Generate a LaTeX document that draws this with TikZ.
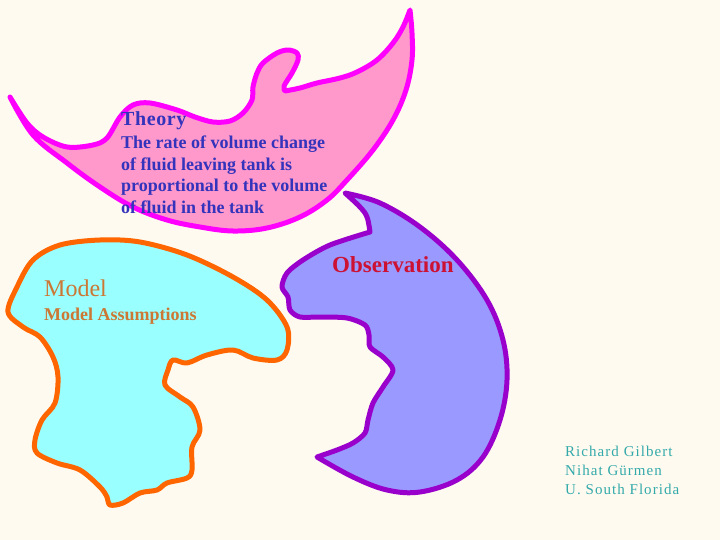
\documentclass[tikz,border=0pt]{standalone}
\usepackage{fontspec}
\setmainfont{Liberation Serif}
\definecolor{bgc}{HTML}{FFFAF0}
\definecolor{pinkfill}{HTML}{FF99CC}
\definecolor{pinkline}{HTML}{FF00FF}
\definecolor{cyanfill}{HTML}{99FFFF}
\definecolor{orangeline}{HTML}{FF6600}
\definecolor{bluefill}{HTML}{9999FF}
\definecolor{purpleline}{HTML}{9900CC}
\definecolor{theorytext}{HTML}{3333BB}
\definecolor{modeltext}{HTML}{CC7733}
\definecolor{obstext}{HTML}{CC1133}
\definecolor{authortext}{HTML}{33AAAA}
\tikzset{
  blob/.style={line width=5pt, line join=round, line cap=round},
  txt/.style={inner sep=0pt, anchor=north west, align=left},
}
\begin{document}
\begin{tikzpicture}[x=1pt,y=-1pt]
\useasboundingbox (0,0) rectangle (720,540);
\fill[bgc] (0,0) rectangle (720,540);
% Theory blob
\draw[blob, draw=pinkline, fill=pinkfill]
  plot[smooth, tension=0.6] coordinates {(10,97) (33,135) (67,163) (100,187) (133,207) (167,220) (200,227) (233,231) (267,228) (300,217) (327,200) (347,180) (373,150) (393,120) (406,90) (412,60) (412,33) (410,10)}
  -- plot[smooth, tension=0.6] coordinates {(410,10) (403,27) (393,43) (377,60) (357,72) (340,78) (317,83) (300,88) (285,91)}
  -- plot[smooth, tension=0.55] coordinates {(285,91) (284,86) (292,73) (298,60) (297,53) (288,50) (277,53) (263,63) (257,73) (253,87) (252,100) (243,113) (230,121) (213,122) (195,117) (177,110) (150,103) (133,105) (120,117) (107,138) (93,145) (67,147) (43,137) (27,123) (10,97)}
  -- cycle;
% Model blob
\draw[blob, draw=orangeline, fill=cyanfill]
  plot[smooth cycle, tension=0.55] coordinates {(8,312) (17,287) (33,260) (60,245) (100,240) (140,242) (187,255) (233,277) (267,300) (287,327) (287,350) (277,360) (253,358) (233,350) (207,355) (187,363) (173,360) (168,370) (165,385) (180,397) (193,407) (200,430) (192,447) (192,470) (187,478) (167,483) (157,490) (140,493) (123,503) (110,505) (107,497) (100,487) (80,470) (57,463) (37,453) (35,440) (42,420) (55,403) (58,377) (53,357) (40,337) (23,327)};
% Observation blob
\draw[blob, draw=purpleline, fill=bluefill]
  plot[smooth, tension=0.6] coordinates {(345,193) (380,203) (420,227) (457,260) (487,300) (503,340) (507,380) (500,420) (483,457) (457,480) (420,492) (387,490) (353,477) (317,457)}
  -- plot[smooth, tension=0.5] coordinates {(317,457) (337,450) (353,443) (365,433) (368,420) (373,403) (383,387) (393,370) (383,357) (370,347) (369,335) (365,325) (347,318) (320,317) (300,317) (290,310) (288,297) (282,287) (287,273) (303,260) (330,245) (370,232)}
  -- plot[smooth, tension=0.6] coordinates {(370,232) (367,217) (360,207) (345,193)}
  -- cycle;
% Texts
\node[txt, text=theorytext, font=\fontsize{20}{24}\selectfont\bfseries\addfontfeature{LetterSpace=3}] (theory) at (121,111) {Theory};
\node[txt, text=theorytext, font=\fontsize{18}{21.8}\selectfont\bfseries] (theorybody) at (121,135.5)
  {The rate of volume change\\of fluid leaving tank is\\proportional to the volume\\of fluid in the tank};
\node[txt, text=modeltext, font=\fontsize{24}{28}\selectfont] (model) at (44,280) {Model};
\node[txt, text=modeltext, font=\fontsize{18}{20}\selectfont\bfseries] (assump) at (44,308) {Model Assumptions};
\node[txt, text=obstext, font=\fontsize{23}{26}\selectfont\bfseries] (obs) at (332,256) {Observation};
\node[txt, text=authortext, font=\fontsize{15}{19}\selectfont\addfontfeature{LetterSpace=7}] (authors) at (565,446)
  {Richard Gilbert\\Nihat Gürmen\\U. South Florida};
\end{tikzpicture}
\end{document}
